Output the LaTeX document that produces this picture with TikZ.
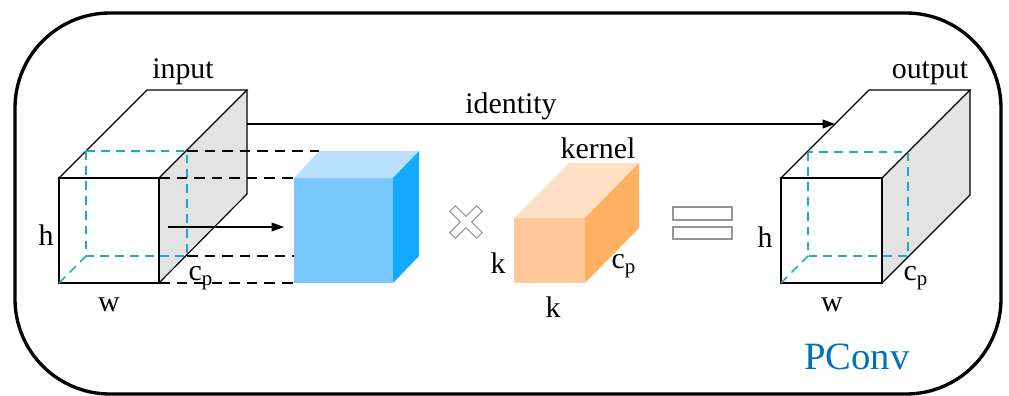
\documentclass[tikz,border=0pt]{standalone}
\usepackage{fontspec}
\setmainfont{Liberation Serif}
\usetikzlibrary{arrows.meta}

\definecolor{cyanline}{RGB}{30,170,205}
\definecolor{facegray}{RGB}{227,227,227}
\definecolor{bluetop}{RGB}{185,225,255}
\definecolor{bluefront}{RGB}{122,200,255}
\definecolor{blueside}{RGB}{18,170,255}
\definecolor{kerntop}{RGB}{255,224,196}
\definecolor{kernfront}{RGB}{255,200,155}
\definecolor{kernside}{RGB}{255,176,96}
\definecolor{pconvblue}{RGB}{0,112,192}
\definecolor{symgray}{RGB}{150,150,150}

\begin{document}
\begin{tikzpicture}[x = .02cm, y = -.02cm,
        every node/.style = {font = \fontsize{17}{20}\selectfont, inner sep = 0pt},
        edge/.style = {line width = .65pt},
        hidden/.style = {cyanline, line width = .9pt, dash pattern = on 5pt off 3.5pt},
        guide/.style = {line width = .9pt, dash pattern = on 6pt off 4pt},
        tip/.style = {-{Triangle[length = 7pt, width = 5pt]}, line width = .7pt}]
        \useasboundingbox (0,0) rectangle (1009,396);
        \draw[line width = 1.9pt, rounded corners = 1.9cm] (15,13) rectangle (1001,394);

        % input
        \coordinate (in-a) at (59,178);
        \coordinate (in-b) at (159,178);
        \coordinate (in-c) at (159,283);
        \coordinate (in-d) at (59,283);
        \coordinate (in-e) at (147,90);
        \coordinate (in-f) at (247,90);
        \coordinate (in-g) at (247,194);
        \fill[facegray] (in-b) -- (in-f) -- (in-g) -- (in-c) -- cycle;
        \draw[edge] (in-a) rectangle (in-c);
        \draw[edge] (in-a) -- (in-e) -- (in-f) -- (in-b);
        \draw[edge] (in-f) -- (in-g) -- (in-c);
        \draw[hidden] (86,151) rectangle (187,256);
        \draw[hidden] (in-d) -- (86,256);

        % partial channels
        \coordinate (bl-a) at (294,178);
        \coordinate (bl-b) at (393,178);
        \coordinate (bl-c) at (393,283);
        \coordinate (bl-d) at (294,283);
        \coordinate (bl-e) at (319,151);
        \coordinate (bl-f) at (419,151);
        \coordinate (bl-g) at (419,256);
        \fill[bluefront] (bl-a) rectangle (bl-c);
        \fill[bluetop] (bl-a) -- (bl-e) -- (bl-f) -- (bl-b) -- cycle;
        \fill[blueside] (bl-b) -- (bl-f) -- (bl-g) -- (bl-c) -- cycle;
        \draw[guide] (187,151) -- (bl-e);
        \draw[guide] (in-b) -- (bl-a);
        \draw[guide] (187,256) -- (294,256);
        \draw[guide] (in-c) -- (bl-d);
        \coordinate (sl-start) at (168,227);
        \coordinate (sl-end) at (284,227);
        \draw[tip] (sl-start) -- (sl-end);

        % kernel
        \coordinate (k-a) at (514,218);
        \coordinate (k-b) at (585,218);
        \coordinate (k-c) at (585,283);
        \coordinate (k-e) at (569,163);
        \coordinate (k-f) at (639,163);
        \coordinate (k-g) at (639,228);
        \fill[kernfront] (k-a) rectangle (k-c);
        \fill[kerntop] (k-a) -- (k-e) -- (k-f) -- (k-b) -- cycle;
        \fill[kernside] (k-b) -- (k-f) -- (k-g) -- (k-c) -- cycle;

        \draw[symgray, line width = .6pt, shift = {(466,222)}, rotate = 45]
                (-4,-19) -- (4,-19) -- (4,-4) -- (19,-4) -- (19,4) -- (4,4) --
                (4,19) -- (-4,19) -- (-4,4) -- (-19,4) -- (-19,-4) -- (-4,-4) -- cycle;
        \draw[symgray, line width = .8pt] (673,207) rectangle (732,220);
        \draw[symgray, line width = .8pt] (673,227) rectangle (732,239);

        % output
        \coordinate (out-a) at (781,178);
        \coordinate (out-b) at (882,178);
        \coordinate (out-c) at (882,283);
        \coordinate (out-d) at (781,283);
        \coordinate (out-e) at (869,90);
        \coordinate (out-f) at (970,90);
        \coordinate (out-g) at (970,195);
        \fill[facegray] (out-b) -- (out-f) -- (out-g) -- (out-c) -- cycle;
        \draw[edge] (out-a) rectangle (out-c);
        \draw[edge] (out-a) -- (out-e) -- (out-f) -- (out-b);
        \draw[edge] (out-f) -- (out-g) -- (out-c);
        \draw[hidden] (808,152) rectangle (908,256);
        \draw[hidden] (out-d) -- (808,256);

        \coordinate (id-start) at (247,124);
        \coordinate (id-end) at (835,124);
        \draw[tip] (id-start) -- (id-end);

        \node (inlabel) at (183,72) {input};
        \node (idlabel) at (511,106) {identity};
        \node (kernlabel) at (598,148) {kernel};
        \node (outlabel) at (930,73) {output};
        \node (inh) at (46,235) {h};
        \node (inw) at (109,305) {w};
        \node (incp) at (201,278) {c\textsubscript{p}};
        \node (kh) at (498,263) {k};
        \node (kw) at (553,307) {k};
        \node (kcp) at (624,266) {c\textsubscript{p}};
        \node (outh) at (765,237) {h};
        \node (outw) at (832,305) {w};
        \node (outcp) at (916,278) {c\textsubscript{p}};
        \node[pconvblue, font = \fontsize{22}{26}\selectfont] (pconv) at (857,357) {PConv};
      \end{tikzpicture}
\end{document}
